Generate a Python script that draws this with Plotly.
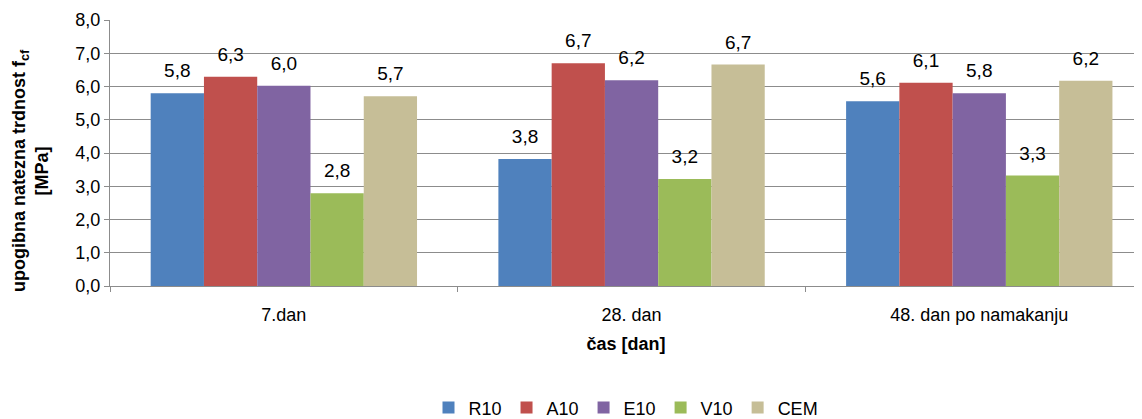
import plotly.graph_objects as go

categories = ["7.dan", "28. dan", "48. dan po namakanju"]
series_names = ["R10", "A10", "E10", "V10", "CEM"]
r10 = [5.80, 3.82, 5.56]
a10 = [6.29, 6.70, 6.11]
e10 = [6.02, 6.19, 5.80]
v10 = [2.79, 3.22, 3.32]
cem = [5.71, 6.66, 6.17]
colors = ["#4F81BD", "#C0504D", "#8064A2", "#9BBB59", "#C6BE97"]
y_title = "<b>upogibna natezna trdnost f<sub>cf</sub><br>[MPa]</b>"
x_title = "<b>čas [dan]</b>"

fig = go.Figure()
for name, vals, col in zip(series_names, [r10, a10, e10, v10, cem], colors):
    fig.add_trace(go.Bar(
        x=categories, y=vals, name=name, marker_color=col,
        marker_line_width=0, offsetgroup=name, hoverinfo="skip",
    ))
for name, vals in zip(series_names, [r10, a10, e10, v10, cem]):
    fig.add_trace(go.Scatter(
        x=categories, y=vals, mode="markers+text", offsetgroup=name,
        marker=dict(size=16, opacity=0), showlegend=False,
        texttemplate="%{y:.1f}", textposition="top center",
        textfont=dict(size=19, color="#000000"), cliponaxis=False,
    ))

fig.update_layout(
    width=1134, height=411,
    margin=dict(l=102, r=0, t=12, b=133, autoexpand=False),
    paper_bgcolor="white", plot_bgcolor="white",
    separators=", ",
    barmode="group", bargap=0.234, bargroupgap=0,
    scattermode="group", scattergap=0.234,
    font=dict(family="Liberation Sans, Arial", size=18, color="#000000"),
    legend=dict(orientation="h", x=0.5, xanchor="center", yref="container", y=0.027, yanchor="middle",
                font=dict(size=18), itemwidth=30, traceorder="normal"),
    showlegend=True,
    annotations=[dict(
        text=y_title, textangle=-90, xref="paper", yref="paper", x=0, y=0.5,
        xanchor="center", yanchor="middle", xshift=-80, yshift=-18,
        showarrow=False, font=dict(size=18, color="#000000"),
    )],
)
fig.update_yaxes(
    range=[0, 8], dtick=1, tickformat=".1f",
    showgrid=True, gridcolor="#8C8C8C", gridwidth=1,
    showline=True, linecolor="#8C8C8C", ticks="outside", ticklen=5, tickcolor="#8C8C8C",
    tickfont=dict(size=18), automargin=False, zeroline=False,
)
fig.update_xaxes(
    range=[-0.5, 2.468],
    showline=True, linecolor="#8C8C8C", ticks="outside", ticklen=5, tickcolor="#8C8C8C",
    tickson="boundaries", tickfont=dict(size=18), automargin=False, ticklabelstandoff=12,
    title=dict(text=x_title, font=dict(size=18), standoff=13),
)
fig.write_html("out.html")
